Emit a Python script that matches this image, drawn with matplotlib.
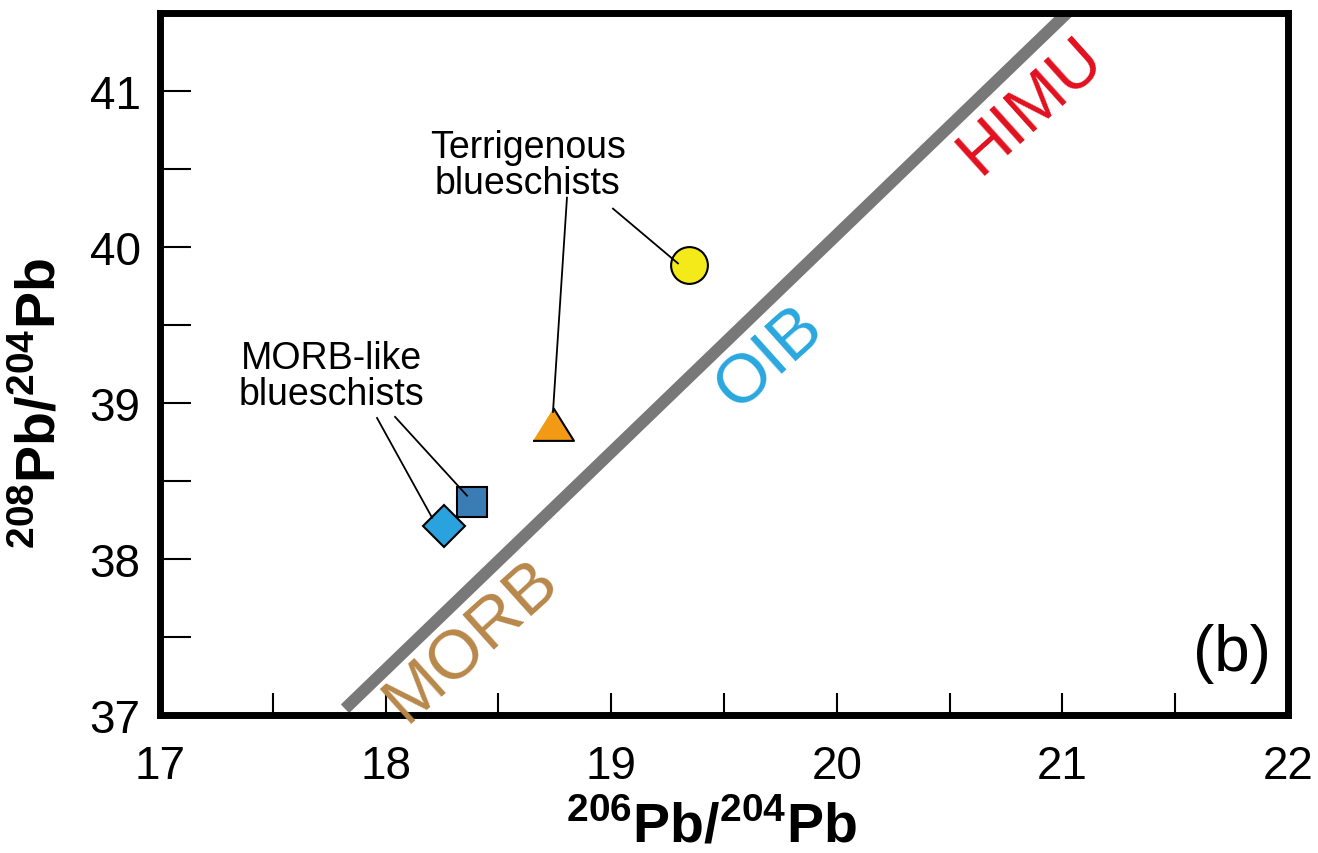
import matplotlib
matplotlib.use("Agg")
import matplotlib.pyplot as plt
from matplotlib.ticker import MultipleLocator

plt.rcParams['font.family'] = ['Liberation Sans', 'DejaVu Sans']
plt.rcParams['mathtext.fontset'] = 'custom'
plt.rcParams['mathtext.rm'] = 'Liberation Sans'
plt.rcParams['mathtext.bf'] = 'Liberation Sans:bold'

# sample groups: 206Pb/204Pb, 208Pb/204Pb
groups = ["Terrigenous", "MORB-like (square)", "MORB-like (diamond)", "Terrigenous (circle)"]
pb206 = [18.742, 18.383, 18.261, 19.343]
pb208 = [38.866, 38.367, 38.211, 39.885]
face_colors = ["#F39A14", "#3A7DB5", "#2AA2DD", "#F4EA1A"]
tri = [(-1, -0.8), (1, -0.8), (0, 0.8)]
markers = [tri, "s", "D", "o"]
sizes = [29.5, 21.5, 21.5, 26.5]

# reference array (MORB -> OIB -> HIMU)
trend_x = [17.82, 21.035]
trend_y = [37.04, 41.52]

# end-member labels
em_names = ["MORB", "OIB", "HIMU"]
em_x = [18.379, 19.704, 20.861]
em_y = [37.479, 39.294, 40.91]
em_sizes = [50, 50, 48]
em_colors = ["#B8874A", "#2AA7DF", "#E2101E"]

# group captions and their leader lines
captions = ["Terrigenous\nblueschists", "MORB-like\nblueschists"]
cap_x = [18.631, 17.762]
cap_y = [40.757, 39.403]
leaders = [
    ((19.008, 40.246), (19.296, 39.895)),
    ((18.804, 40.316), (18.742, 38.943)),
    ((18.042, 38.911), (18.361, 38.406)),
    ((17.962, 38.904), (18.206, 38.265)),
]

fig = plt.figure(figsize=(13.18, 8.54), dpi=100)
ax = fig.add_axes([0.1214, 0.1616, 0.8558, 0.822])

ax.plot(trend_x, trend_y, color="#787878", lw=8.6, solid_capstyle="butt", zorder=1)

for x, y, c, m, s in zip(pb206, pb208, face_colors, markers, sizes):
    ax.plot(x, y, marker=m, ms=s, mfc=c, mec="black", mew=1.5, ls="none", zorder=3)

for (x0, y0), (x1, y1) in leaders:
    ax.plot([x0, x1], [y0, y1], color="black", lw=1.3, zorder=4)

for t, x, y in zip(captions, cap_x, cap_y):
    ax.text(x, y, t, ha="center", va="top", fontsize=27, linespacing=1.0)

for t, x, y, c, fs in zip(em_names, em_x, em_y, em_colors, em_sizes):
    ax.text(x, y, t, color=c, fontsize=fs, rotation=42, ha="center", va="center",
            rotation_mode="anchor")

ax.text(0.95, 0.089, "(b)", transform=ax.transAxes, fontsize=46, ha="center", va="center")

ax.set_xlim(17, 22)
ax.set_ylim(37, 41.5)
ax.xaxis.set_major_locator(MultipleLocator(1))
ax.xaxis.set_minor_locator(MultipleLocator(0.5))
ax.yaxis.set_major_locator(MultipleLocator(1))
ax.yaxis.set_minor_locator(MultipleLocator(0.5))
ax.tick_params(axis="x", which="both", direction="in", length=16, width=1.5, labelsize=33, pad=21)
ax.tick_params(axis="y", which="both", direction="in", length=22, width=1.5, labelsize=33, pad=14)

for sp in ax.spines.values():
    sp.set_linewidth(5)

ax.set_xlabel(r"$^{\mathbf{206}}$Pb/$^{\mathbf{204}}$Pb", fontsize=40, fontweight="bold")
ax.set_ylabel(r"$^{\mathbf{208}}$Pb/$^{\mathbf{204}}$Pb", fontsize=40, fontweight="bold")
ax.xaxis.set_label_coords(0.4885, -0.122)
ax.yaxis.set_label_coords(-0.082, 0.445)

fig.savefig("out.png", dpi=100)
